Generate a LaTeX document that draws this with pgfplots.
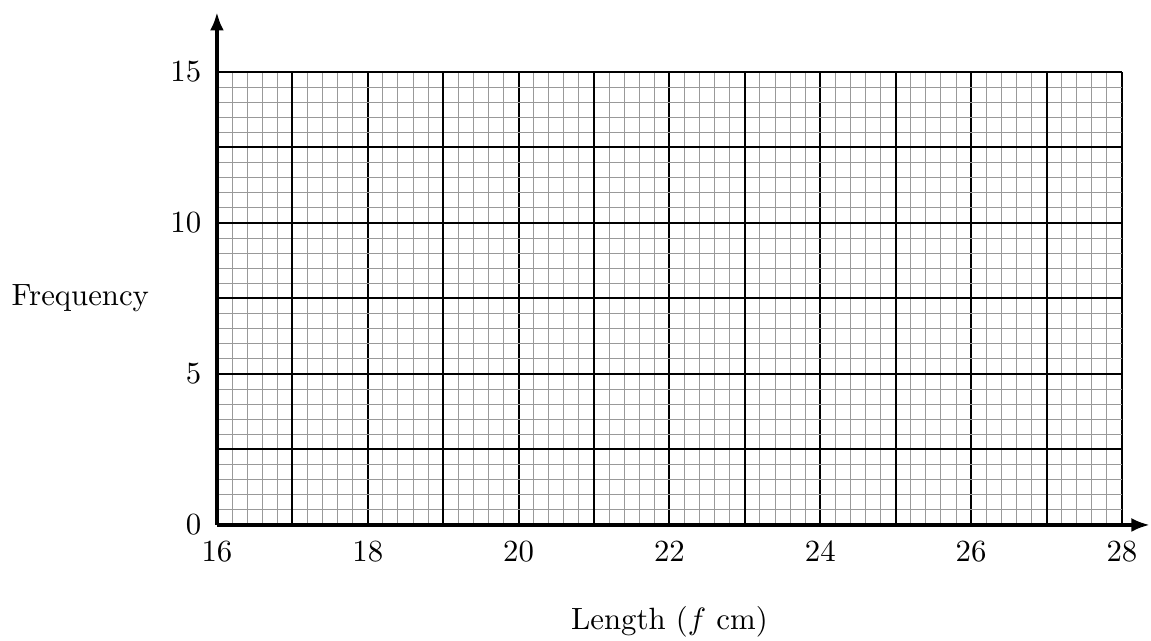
\documentclass[border=0pt]{standalone}
\usepackage{pgfplots}
\pgfplotsset{compat=1.18}
\usetikzlibrary{arrows.meta}
\begin{document}
\begin{tikzpicture}
\begin{axis}[
  at={(0,0)}, anchor=south west,
  scale only axis,
  width=294.1pt, height=147.2pt,
  xmin=16, xmax=28, ymin=0, ymax=15,
  axis lines=left,
  axis line style={line width=1.3pt},
  x axis line style={-{Latex[length=6pt,width=4.5pt]}, shorten >=-9.1pt},
  y axis line style={-{Latex[length=6pt,width=4.5pt]}, shorten >=-19.5pt},
  xtick={16,18,...,28},
  ytick={0,5,10,15},
  extra x ticks={17,19,...,27},
  extra x tick labels={},
  extra y ticks={2.5,7.5,12.5},
  extra y tick labels={},
  extra tick style={grid style={black!85, line width=0.45pt}},
  minor x tick num=9,
  minor y tick num=9,
  major tick length=0pt, minor tick length=0pt,
  grid=both,
  minor grid style={gray!80, line width=0.33pt},
  major grid style={black, line width=0.65pt},
  xticklabel style={yshift=-2pt},
  yticklabel style={xshift=-1.6pt},
  xlabel={Length ($f$ cm)},
  ylabel={Frequency},
  xlabel style={at={(axis description cs:0.5,-0.214)}, anchor=center},
  ylabel style={at={(axis description cs:-0.151,0.501)}, anchor=center, rotate=-90},
]
\addplot[draw=none, mark=none, forget plot] coordinates {(16,0) (28,15)};
\end{axis}
\pgfresetboundingbox
\path[use as bounding box] (-70.5pt,-37.7pt) rectangle (303.55pt,170.6pt);
\end{tikzpicture}
\end{document}
